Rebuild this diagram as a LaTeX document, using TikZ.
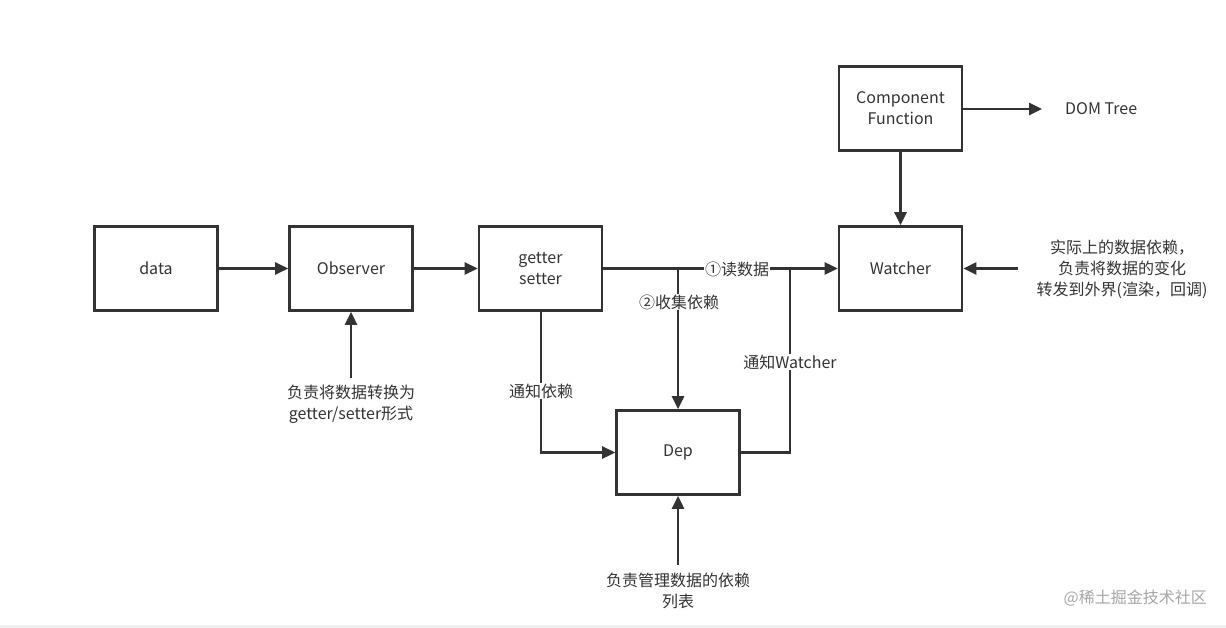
\documentclass[tikz,border=0pt]{standalone}
\usepackage{fontspec}
\setmainfont{Noto Sans CJK SC}
\usetikzlibrary{arrows.meta}
\definecolor{ink}{HTML}{333333}
\definecolor{txt}{HTML}{333333}
\tikzset{
  box/.style={draw=ink, line width=2.6pt, minimum width=123pt, minimum height=84pt, inner sep=0pt, text=txt, font=\fontsize{16pt}{21pt}\selectfont, align=center},
  conn/.style={draw=ink, line width=2.6pt},
  arr/.style={conn, -{Triangle[length=13pt,width=12pt]}},
  lbl/.style={text=txt, font=\fontsize{16pt}{21pt}\selectfont, align=center, inner sep=1pt},
  lblbg/.style={lbl, fill=white},
}
\begin{document}
\begin{tikzpicture}[x=1pt,y=-1pt]
\useasboundingbox (0,0) rectangle (1226,628);
\fill[white] (0,0) rectangle (1226,628);
\fill[black!6] (0,625) rectangle (1226,628);

\node[box] (data) at (156,268.5) {data};
\node[box] (obs) at (351,268.5) {Observer};
\node[box] (gs) at (540.5,268.5) {getter\\setter};
\node[box] (wat) at (900.5,268.5) {Watcher};
\node[box] (comp) at (900.5,108.5) {Component\\Function};
\node[box] (dep) at (678,452.5) {Dep};

\coordinate (br) at (678,268.5);
\coordinate (jn) at (790,268.5);
\coordinate (gsd) at (541,452.5);
\coordinate (depr) at (790,452.5);
\coordinate (domend) at (1042,109);
\coordinate (watin) at (1018,268.5);
\coordinate (obsin) at (351,378);
\coordinate (depin) at (678,565);

\draw[arr] (data) -- (obs);
\draw[arr] (obs) -- (gs);
\draw[arr] (gs) -- (wat);
\draw[arr] (br) -- (dep);
\draw[arr] (gs.south -| gsd) -- (gsd) -- (dep.west);
\draw[conn] (dep.east) -- (depr) -- (jn);
\draw[arr] (comp) -- (wat);
\draw[arr] (comp.east |- domend) -- (domend);
\draw[arr] (watin) -- (wat.east);
\draw[arr] (obsin) -- (obs.south);
\draw[arr] (depin) -- (dep.south);

\node[lblbg] (l1) at (737,269) {①读数据};
\node[lblbg] (l2) at (679,302) {②收集依赖};
\node[lblbg] (l3) at (541,391) {通知依赖};
\node[lblbg] (l4) at (790,362) {通知Watcher};
\node[lbl, anchor=west] (dom) at (1064,109) {DOM Tree};
\node[lbl] (wnote) at (1122,269) {实际上的数据依赖，\\负责将数据的变化\\转发到外界(渲染，回调)};
\node[lbl] (onote) at (351,404) {负责将数据转换为\\getter/setter形式};
\node[lbl] (dnote) at (678,591) {负责管理数据的依赖\\列表};
\node[lbl, text=black!35, anchor=east] (wm) at (1208,598) {@稀土掘金技术社区};
\end{tikzpicture}
\end{document}
